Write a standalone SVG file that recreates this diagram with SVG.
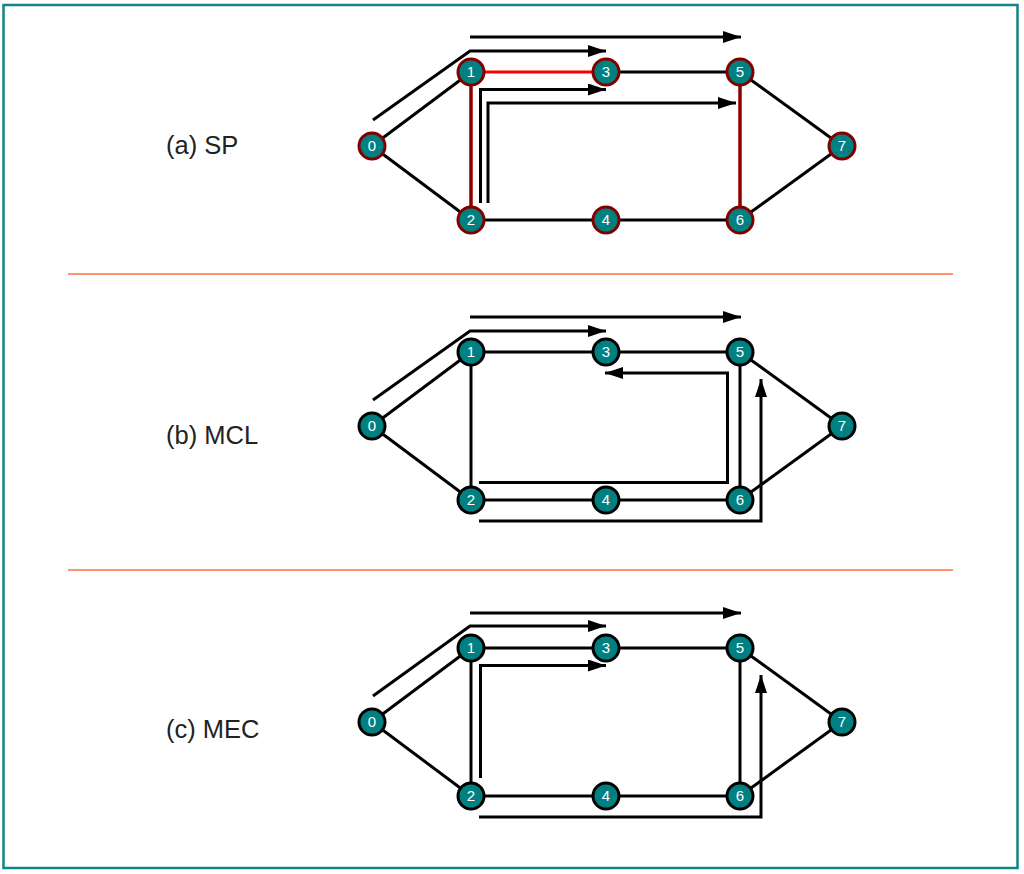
<svg xmlns="http://www.w3.org/2000/svg" width="1024" height="874" viewBox="0 0 1024 874">
<style>
.e{stroke:#000;stroke-width:3;fill:none}
.er{stroke:#ff0000;stroke-width:3;fill:none}
.ed{stroke:#8b0000;stroke-width:3.5;fill:none}
.a{stroke:#000;stroke-width:3;fill:none;marker-end:url(#ah)}
.n{fill:#008080;stroke:#000;stroke-width:3}
.nr{fill:#008080;stroke:#800000;stroke-width:3}
.nt{fill:#fff;font-family:"Liberation Sans",Arial,sans-serif;font-size:15px;text-anchor:middle}
.lb{fill:#222;font-family:"Liberation Sans",Arial,sans-serif;font-size:25.5px}
.sep{stroke:#ff7043;stroke-width:1.6}
</style>
<defs>
<marker id="ah" markerUnits="userSpaceOnUse" markerWidth="20" markerHeight="14" refX="18" refY="6" orient="auto">
<path d="M0,0 L18,6 L0,12 z" fill="#000"/>
</marker>
</defs>
<rect x="3.5" y="5" width="1014" height="863" fill="#fff" stroke="#138585" stroke-width="2.5"/>
<line class="sep" x1="68" y1="274" x2="953" y2="274"/>
<line class="sep" x1="68" y1="570" x2="953" y2="570"/>
<text class="lb" x="166" y="154">(a) SP</text>
<text class="lb" x="166" y="444">(b) MCL</text>
<text class="lb" x="166" y="738">(c) MEC</text>

<g id="connectors">
<g id="edges-a">
<line class="e" x1="372" y1="146" x2="471" y2="72"/>
<line class="e" x1="372" y1="146" x2="471" y2="220"/>
<line class="er" x1="471" y1="72" x2="606" y2="72"/>
<line class="e" x1="606" y1="72" x2="740" y2="72"/>
<line class="e" x1="740" y1="72" x2="842" y2="146"/>
<line class="e" x1="842" y1="146" x2="740" y2="220"/>
<line class="e" x1="471" y1="220" x2="740" y2="220"/>
<line class="ed" x1="471" y1="72" x2="471" y2="220"/>
<line class="ed" x1="740" y1="72" x2="740" y2="220"/>
<path class="a" d="M470,37 H741"/>
<path class="a" d="M373,120 L470,51 H606"/>
<path class="a" d="M480.5,203 V89.5 H606"/>
<path class="a" d="M488,203 V103 H736"/>
</g>
<g id="edges-b">
<line class="e" x1="372" y1="426" x2="471" y2="352"/>
<line class="e" x1="372" y1="426" x2="471" y2="500"/>
<line class="e" x1="471" y1="352" x2="740" y2="352"/>
<line class="e" x1="740" y1="352" x2="842" y2="426"/>
<line class="e" x1="842" y1="426" x2="740" y2="500"/>
<line class="e" x1="471" y1="500" x2="740" y2="500"/>
<line class="e" x1="471" y1="352" x2="471" y2="500"/>
<line class="e" x1="740" y1="352" x2="740" y2="500"/>
<path class="a" d="M470,317 H741"/>
<path class="a" d="M373,400 L470,331 H606"/>
<path class="a" d="M479,482.5 H727.5 V373 H605"/>
<path class="a" d="M479,521 H761 V379"/>
</g>
<g id="edges-c">
<line class="e" x1="372" y1="722" x2="471" y2="648"/>
<line class="e" x1="372" y1="722" x2="471" y2="796"/>
<line class="e" x1="471" y1="648" x2="740" y2="648"/>
<line class="e" x1="740" y1="648" x2="842" y2="722"/>
<line class="e" x1="842" y1="722" x2="740" y2="796"/>
<line class="e" x1="471" y1="796" x2="740" y2="796"/>
<line class="e" x1="471" y1="648" x2="471" y2="796"/>
<line class="e" x1="740" y1="648" x2="740" y2="796"/>
<path class="a" d="M470,613 H741"/>
<path class="a" d="M373,696 L470,626 H606"/>
<path class="a" d="M480.5,778 V665.5 H606"/>
<path class="a" d="M479,817 H761 V675"/>
</g>
</g>

<g id="panel-a-nodes">
<g id="a0"><circle class="nr" cx="372" cy="146" r="13"/><text class="nt" x="372" y="151">0</text></g>
<g id="a1"><circle class="nr" cx="471" cy="72" r="13"/><text class="nt" x="471" y="77">1</text></g>
<g id="a2"><circle class="nr" cx="471" cy="220" r="13"/><text class="nt" x="471" y="225">2</text></g>
<g id="a3"><circle class="nr" cx="606" cy="72" r="13"/><text class="nt" x="606" y="77">3</text></g>
<g id="a4"><circle class="nr" cx="606" cy="220" r="13"/><text class="nt" x="606" y="225">4</text></g>
<g id="a5"><circle class="nr" cx="740" cy="72" r="13"/><text class="nt" x="740" y="77">5</text></g>
<g id="a6"><circle class="nr" cx="740" cy="220" r="13"/><text class="nt" x="740" y="225">6</text></g>
<g id="a7"><circle class="nr" cx="842" cy="146" r="13"/><text class="nt" x="842" y="151">7</text></g>
</g>
<g id="panel-b-nodes">
<g id="b0"><circle class="n" cx="372" cy="426" r="13"/><text class="nt" x="372" y="431">0</text></g>
<g id="b1"><circle class="n" cx="471" cy="352" r="13"/><text class="nt" x="471" y="357">1</text></g>
<g id="b2"><circle class="n" cx="471" cy="500" r="13"/><text class="nt" x="471" y="505">2</text></g>
<g id="b3"><circle class="n" cx="606" cy="352" r="13"/><text class="nt" x="606" y="357">3</text></g>
<g id="b4"><circle class="n" cx="606" cy="500" r="13"/><text class="nt" x="606" y="505">4</text></g>
<g id="b5"><circle class="n" cx="740" cy="352" r="13"/><text class="nt" x="740" y="357">5</text></g>
<g id="b6"><circle class="n" cx="740" cy="500" r="13"/><text class="nt" x="740" y="505">6</text></g>
<g id="b7"><circle class="n" cx="842" cy="426" r="13"/><text class="nt" x="842" y="431">7</text></g>
</g>
<g id="panel-c-nodes">
<g id="c0"><circle class="n" cx="372" cy="722" r="13"/><text class="nt" x="372" y="727">0</text></g>
<g id="c1"><circle class="n" cx="471" cy="648" r="13"/><text class="nt" x="471" y="653">1</text></g>
<g id="c2"><circle class="n" cx="471" cy="796" r="13"/><text class="nt" x="471" y="801">2</text></g>
<g id="c3"><circle class="n" cx="606" cy="648" r="13"/><text class="nt" x="606" y="653">3</text></g>
<g id="c4"><circle class="n" cx="606" cy="796" r="13"/><text class="nt" x="606" y="801">4</text></g>
<g id="c5"><circle class="n" cx="740" cy="648" r="13"/><text class="nt" x="740" y="653">5</text></g>
<g id="c6"><circle class="n" cx="740" cy="796" r="13"/><text class="nt" x="740" y="801">6</text></g>
<g id="c7"><circle class="n" cx="842" cy="722" r="13"/><text class="nt" x="842" y="727">7</text></g>
</g>
</svg>
